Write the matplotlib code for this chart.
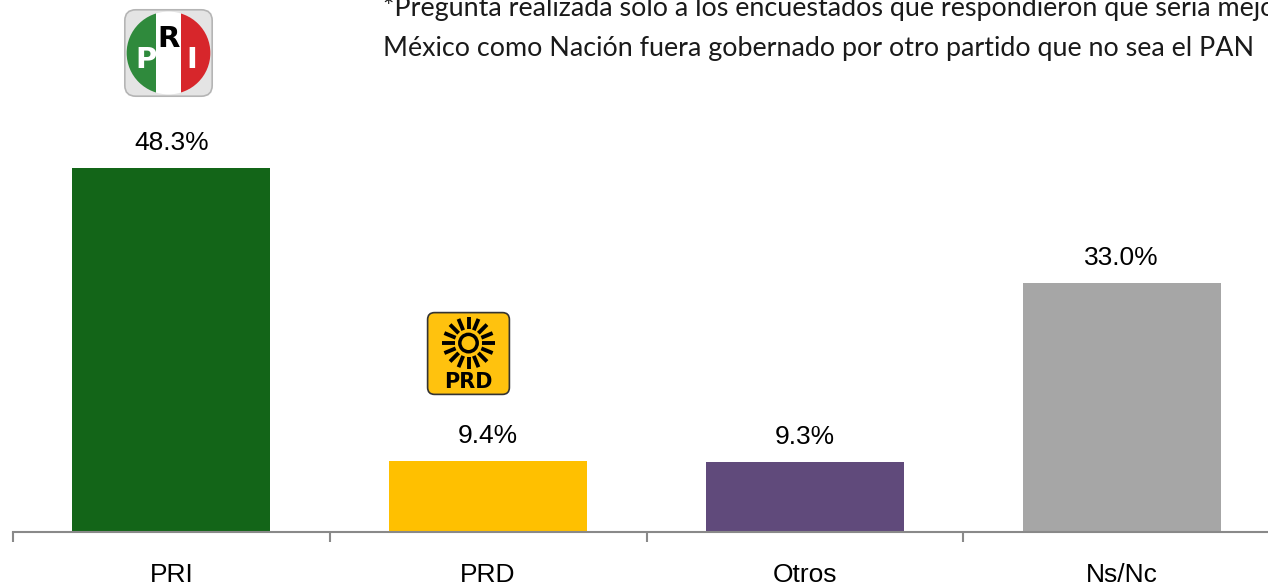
import numpy as np
import matplotlib.pyplot as plt
from matplotlib.patches import FancyBboxPatch, Circle, Rectangle

categorias = ['PRI', 'PRD', 'Otros', 'Ns/Nc']
valores = [48.3, 9.4, 9.3, 33.0]
etiquetas = ['48.3%', '9.4%', '9.3%', '33.0%']
colores = ['#136518', '#FFC000', '#604A7B', '#A6A6A6']

nota = ('*Pregunta realizada sólo a los encuestados que respondieron que seria mejor para\n'
        'México como Nación fuera gobernado por otro partido que no sea el PAN')

W, H = 1268, 586
fig = plt.figure(figsize=(W / 100, H / 100), dpi=100)
plt.rcParams['font.family'] = ['Liberation Sans', 'DejaVu Sans']

# eje principal: de x=13 a x=1280 px, base en y=532, 60 unidades = 452 px
ax = fig.add_axes([13 / W, 54 / H, 1267 / W, 452 / H])
x = np.arange(len(categorias))
ax.bar(x, valores, width=0.625, color=colores)
ax.set_xlim(-0.5, len(categorias) - 0.5)
ax.set_ylim(0, 60)

for xi, v, t in zip(x, valores, etiquetas):
    ax.annotate(t, (xi, v), xytext=(0, 18), textcoords='offset points',
                ha='center', va='center', fontsize=19, color='black')

for s in ['top', 'right', 'left']:
    ax.spines[s].set_visible(False)
ax.spines['bottom'].set_color('#898989')
ax.spines['bottom'].set_linewidth(1.5)
ax.set_yticks([])
ax.set_xticks(x)
ax.set_xticklabels(categorias, fontsize=19)
ax.tick_params(axis='x', which='major', length=0, pad=22)
ax.set_xticks(np.arange(-0.5, len(categorias)), minor=True)
ax.tick_params(axis='x', which='minor', length=7, width=1.5, color='#898989')

fig.text(383 / W, 1 - 28 / H, nota, fontsize=19.4, family=['Lato', 'DejaVu Sans'],
         ha='left', va='center', linespacing=1.75, color='#1a1a1a')


def logo_ax(x0, y0, w, h):
    a = fig.add_axes([x0 / W, 1 - (y0 + h) / H, w / W, h / H])
    a.set_xlim(0, 1)
    a.set_ylim(0, 1)
    a.axis('off')
    return a


# logo PRI
a = logo_ax(123, 8, 91, 90)
a.add_patch(FancyBboxPatch((0.02, 0.02), 0.96, 0.96, boxstyle='round,pad=0,rounding_size=0.12',
                           facecolor='#e4e4e4', edgecolor='#b5b5b5', lw=1.2))
circ = Circle((0.5, 0.5), 0.46, transform=a.transData)
for x0, c in [(0.0, '#2f8a3c'), (0.36, 'white'), (0.64, '#d7262b')]:
    r = a.add_patch(Rectangle((x0, 0), 0.36 if x0 < 0.6 else 0.4, 1, facecolor=c, edgecolor='none'))
    r.set_clip_path(circ)
a.text(0.25, 0.42, 'P', color='white', fontsize=21, fontweight='bold', ha='center', va='center',
       family='DejaVu Sans')
a.text(0.5, 0.66, 'R', color='black', fontsize=21, fontweight='bold', ha='center', va='center',
       family='DejaVu Sans')
a.text(0.76, 0.42, 'I', color='white', fontsize=21, fontweight='bold', ha='center', va='center',
       family='DejaVu Sans')

# logo PRD
a = logo_ax(425, 310, 87, 87)
a.add_patch(FancyBboxPatch((0.03, 0.03), 0.94, 0.94, boxstyle='round,pad=0,rounding_size=0.08',
                           facecolor='#FFC20E', edgecolor='#333333', lw=1.2))
a.add_patch(Circle((0.5, 0.62), 0.1, facecolor='none', edgecolor='black', lw=2.5))
for ang in np.linspace(0, 2 * np.pi, 16, endpoint=False):
    a.plot([0.5 + 0.16 * np.cos(ang), 0.5 + 0.3 * np.cos(ang)],
           [0.62 + 0.16 * np.sin(ang), 0.62 + 0.3 * np.sin(ang)], color='black', lw=2.8,
           solid_capstyle='butt')
a.text(0.5, 0.17, 'PRD', color='black', fontsize=15, fontweight='bold', ha='center', va='center',
       family='DejaVu Sans')

fig.savefig('out.png', dpi=100)
